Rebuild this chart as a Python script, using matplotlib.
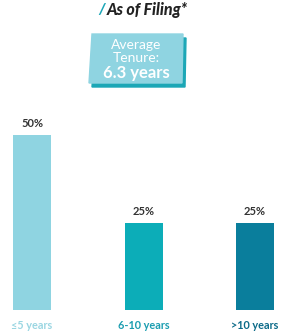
import matplotlib
matplotlib.use("Agg")
import matplotlib.pyplot as plt
from matplotlib.patches import Polygon

categories = ["≤5 years", "6-10 years", ">10 years"]
shares = [50, 25, 25]
bar_colors = ["#8fd4e1", "#0cadb8", "#0a7e9c"]
label_colors = ["#9ad6e2", "#1a9db0", "#0b6a88"]
avg_tenure = "6.3 years"

plt.rcParams['font.family'] = ['Lato', 'DejaVu Sans']

W, H = 290, 336
fig = plt.figure(figsize=(W / 100, H / 100), dpi=100)

# axes from bar baseline (y=310px) up to the 50% level (y=135px)
ax = fig.add_axes([0, (H - 310) / H, 1, 175 / H])
step = 111.5
x0 = 32
ax.set_xlim(-x0 / step, 2 + (W - 255) / step)
ax.set_ylim(0, 50)
xs = range(len(categories))
ax.bar(xs, shares, width=38 / step, color=bar_colors)
for x, v in zip(xs, shares):
    ax.annotate(f"{v}%", (x, v), xytext=(0, 4), textcoords="offset points",
                ha="center", va="bottom", fontsize=8, fontweight="bold",
                color="#333333", annotation_clip=False)
ax.set_xticks(list(xs))
ax.set_xticklabels(categories, fontsize=7.8, fontweight="bold")
for lbl, c in zip(ax.get_xticklabels(), label_colors):
    lbl.set_color(c)
ax.tick_params(axis="x", length=0, pad=7)
ax.set_yticks([])
for s in ax.spines.values():
    s.set_visible(False)


def px(x, y):
    return (x / W, 1 - y / H)


# title
fig.text(*px(102, 10), "/", color="#1aa6b7", fontsize=11, fontweight="black",
         fontstyle="italic", ha="center", va="center")
fig.text(*px(107, 10), "As of Filing*", color="#222222", fontsize=11.5,
         fontweight="black", fontstyle="italic", ha="left", va="center")

# tenure box with shadow
shadow = Polygon([px(95, 38), px(186, 38), px(185, 87), px(92, 87)],
                 closed=True, transform=fig.transFigure, color="#1ca7b6")
box = Polygon([px(92, 34), px(183, 34), px(182, 83), px(89, 83)],
              closed=True, transform=fig.transFigure, color="#8fd4e1")
fig.patches.extend([shadow, box])
fig.text(*px(136, 45), "Average", color="white", fontsize=10,
         ha="center", va="center")
fig.text(*px(136, 58), "Tenure:", color="white", fontsize=10,
         ha="center", va="center")
fig.text(*px(136, 73), avg_tenure, color="white", fontsize=12,
         fontweight="bold", ha="center", va="center")

fig.savefig("out.png", dpi=100, facecolor="white")
